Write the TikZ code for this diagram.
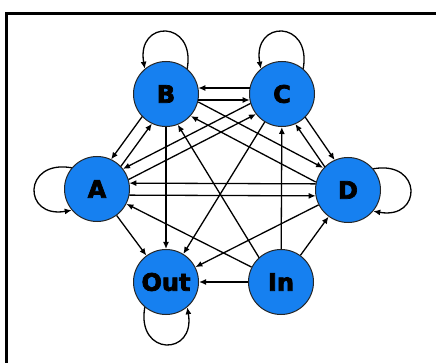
\documentclass[tikz,border=0pt]{standalone}
\usepackage{fontspec}
\newfontfamily\heavy[FakeBold=3]{DejaVu Sans Bold}
\usetikzlibrary{calc,arrows.meta}
\definecolor{nodeblue}{RGB}{22,128,240}
\newcommand\connR[3]{\draw[arr,offline] ($(#1)!#3!-90:(#2)$) -- ($(#2)!#3!90:(#1)$);}
\newcommand\connL[3]{\draw[arr,offline] ($(#1)!#3!90:(#2)$) -- ($(#2)!#3!-90:(#1)$);}
\begin{document}
\begin{tikzpicture}[x=1pt,y=1pt,
  vtx/.style={circle,minimum size=65pt,inner sep=0pt,fill=nodeblue,draw=black!85,line width=1pt,font=\heavy\fontsize{24}{24}\selectfont},
  arr/.style={line width=1.3pt,-{Latex[length=7pt,width=6pt]}},
  offline/.style={shorten >=32.3pt,shorten <=32.3pt},
  frame/.style={line width=3pt,black}]
\useasboundingbox (0,0) rectangle (436,-363);
\fill[white] (0,0) rectangle (436,-363);
\draw[frame] (6.5,-363) -- (6.5,-14) -- (436,-14);
\node[vtx] (B) at (166,-94) {B};
\node[vtx] (C) at (282,-94) {C};
\node[vtx] (D) at (348,-190) {D};
\node[vtx] (In) at (281,-282) {In};
\node[vtx] (Out) at (166,-282) {Out};
\node[vtx] (A) at (97,-189) {A};
% self loops
\draw[arr] (B.50) .. controls +(80:50) and +(100:50) .. (B.130);
\draw[arr] (C.50) .. controls +(80:50) and +(100:50) .. (C.130);
\draw[arr] (A.140) .. controls +(170:50) and +(190:50) .. (A.220);
\draw[arr] (Out.230) .. controls +(260:50) and +(280:50) .. (Out.310);
\draw[arr] (D.40) .. controls +(10:50) and +(-10:50) .. (D.-40);
% paired connectors
\connR{C}{B}{6pt}
\connR{B}{C}{6pt}
\connR{D}{A}{6pt}
\connR{A}{D}{6pt}
\connR{B}{A}{6pt}
\connR{A}{B}{6pt}
\connL{C}{D}{6pt}
\connL{D}{C}{6pt}
\connL{B}{D}{8pt}
\connL{D}{B}{8pt}
\connR{C}{A}{6pt}
\connR{A}{C}{6pt}
\connL{In}{B}{6pt}
% single connectors
\draw[arr] (B) -- (Out);
\draw[arr] (In) -- (C);
\draw[arr] (In) -- (Out);
\draw[arr] (A) -- (Out);
\draw[arr] (In) -- (D);
\draw[arr] (C) -- (Out);
\draw[arr] (D) -- (Out);
\draw[arr] (In) -- (A);
\end{tikzpicture}
\end{document}
